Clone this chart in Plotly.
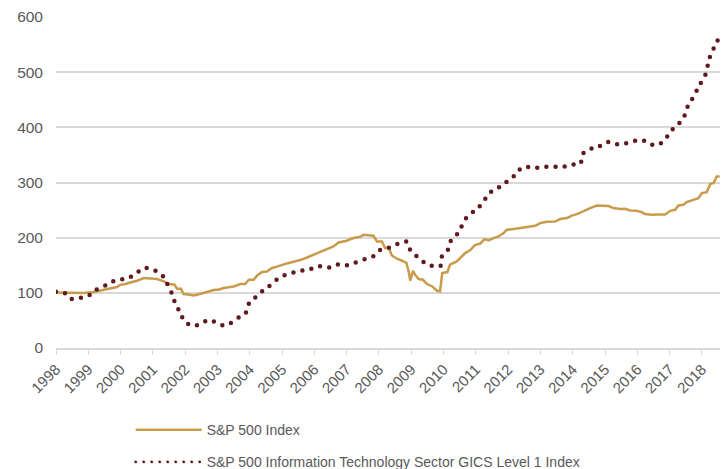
import plotly.graph_objects as go

# S&P 500 Index (rebased to 100 at start of 1998), sampled in decimal years
sp_x = [1998.0, 1998.3, 1998.6, 1998.85, 1999.16, 1999.37, 1999.55, 1999.68, 1999.89, 1999.99,
        2000.15, 2000.3, 2000.51, 2000.72, 2000.92, 2001.13, 2001.34, 2001.49, 2001.67, 2001.75,
        2001.87, 2001.95, 2002.1, 2002.26, 2002.4, 2002.57, 2002.72, 2002.88, 2003.05, 2003.19,
        2003.35, 2003.5, 2003.71, 2003.86, 2003.97, 2004.12, 2004.23, 2004.38, 2004.53, 2004.69,
        2004.82, 2004.95, 2005.15, 2005.36, 2005.56, 2005.77, 2005.98, 2006.18, 2006.39, 2006.59,
        2006.75, 2007.0, 2007.21, 2007.42, 2007.52, 2007.68, 2007.83, 2007.94, 2008.09, 2008.19,
        2008.3, 2008.4, 2008.56, 2008.71, 2008.85, 2008.92, 2008.97, 2009.05, 2009.12, 2009.23,
        2009.36, 2009.49, 2009.65, 2009.8, 2009.89, 2009.96, 2010.12, 2010.2, 2010.41, 2010.67,
        2010.82, 2010.98, 2011.13, 2011.27, 2011.39, 2011.55, 2011.70, 2011.86, 2011.96, 2012.17,
        2012.37, 2012.58, 2012.84, 2012.99, 2013.2, 2013.46, 2013.61, 2013.82, 2013.97, 2014.13,
        2014.33, 2014.54, 2014.75, 2014.95, 2015.11, 2015.26, 2015.47, 2015.62, 2015.78, 2015.98,
        2016.14, 2016.24, 2016.45, 2016.65, 2016.86, 2017.02, 2017.17, 2017.27, 2017.43, 2017.53,
        2017.74, 2017.89, 2018.0, 2018.15, 2018.26, 2018.36, 2018.46, 2018.55]
sp_values = [100.5, 100.0, 99.8, 99.6, 101.4, 103.8, 106.0, 108.7, 110.5, 114.5,
             116.0, 118.8, 122.0, 126.8, 125.5, 125.0, 120.7, 116.0, 114.7, 107.4,
             107.4, 97.8, 97.0, 95.3, 97.0, 99.6, 102.0, 105.0, 106.0, 108.7,
             110.0, 111.6, 116.0, 116.0, 123.7, 123.7, 131.5, 137.7, 138.8, 145.0,
             147.0, 149.6, 153.3, 156.3, 159.4, 164.1, 169.0, 175.0, 179.9, 184.0,
             191.3, 194.4, 199.3, 201.6, 205.3, 204.7, 203.4, 193.0, 193.0, 181.0,
             182.3, 167.8, 161.8, 158.2, 154.5, 138.8, 122.0, 140.0, 132.8, 125.0,
             123.7, 116.0, 111.6, 103.8, 102.6, 135.9, 137.7, 151.0, 157.0, 172.0,
             177.0, 187.0, 189.0, 197.4, 195.0, 199.3, 202.2, 208.3, 214.3, 215.6,
             217.4, 220.3, 221.6, 226.4, 228.8, 229.3, 233.7, 235.5, 240.0, 242.7,
             248.7, 253.6, 258.3, 257.2, 257.2, 253.6, 251.8, 252.4, 249.3, 248.7,
             246.4, 242.7, 241.5, 242.0, 242.0, 248.7, 250.5, 258.3, 259.6, 264.5,
             268.7, 271.7, 280.8, 282.6, 297.6, 298.9, 310.9, 310.9]

# S&P 500 Information Technology Sector GICS Level 1 Index (rebased to 100)
it_x = [1998.0, 1998.27, 1998.46, 1998.73, 1999.0, 1999.22, 1999.44, 1999.69, 1999.93, 2000.21,
        2000.47, 2000.72, 2000.96, 2001.18, 2001.37, 2001.5, 2001.62, 2001.7, 2001.85, 2001.96,
        2002.22, 2002.49, 2002.70, 2002.96, 2003.21, 2003.47, 2003.68, 2003.89, 2003.98, 2004.17,
        2004.38, 2004.6, 2004.83, 2005.08, 2005.37, 2005.66, 2005.91, 2006.16, 2006.45, 2006.72,
        2006.99, 2007.27, 2007.56, 2007.85, 2008.05, 2008.32, 2008.59, 2008.86, 2008.97, 2009.17,
        2009.40, 2009.66, 2009.91, 2009.95, 2010.14, 2010.23, 2010.44, 2010.70, 2010.92, 2011.12,
        2011.3, 2011.48, 2011.72, 2011.94, 2012.13, 2012.30, 2012.51, 2012.81, 2013.1, 2013.40,
        2013.67, 2013.95, 2014.24, 2014.30, 2014.52, 2014.81, 2015.04, 2015.32, 2015.62, 2015.88,
        2016.17, 2016.40, 2016.67, 2016.88, 2017.04, 2017.23, 2017.43, 2017.51, 2017.66, 2017.80,
        2017.93, 2018.08, 2018.16, 2018.22, 2018.34, 2018.47, 2018.52]
it_values = [102.0, 99.6, 89.0, 90.5, 94.7, 105.0, 110.0, 119.5, 123.7, 126.0,
             134.6, 145.0, 143.0, 137.0, 126.0, 108.0, 96.0, 78.0, 65.0, 49.0,
             40.4, 43.5, 50.7, 46.4, 40.4, 47.0, 56.5, 65.0, 81.5, 91.7,
             102.6, 112.0, 123.7, 132.0, 137.0, 141.0, 143.7, 148.0, 146.0, 151.4,
             149.6, 155.0, 161.0, 167.0, 178.0, 182.0, 189.0, 193.0, 177.5, 166.0,
             155.0, 148.5, 149.0, 166.0, 178.6, 195.0, 207.6, 235.5, 247.0, 257.0,
             271.0, 283.7, 291.6, 300.7, 308.5, 320.6, 329.0, 326.0, 328.4, 329.0,
             328.0, 332.6, 334.0, 351.4, 360.5, 365.0, 373.7, 369.6, 370.7, 375.0,
             376.8, 368.8, 368.8, 380.0, 393.0, 404.0, 415.4, 432.0, 447.5, 462.0,
             477.0, 491.0, 506.0, 523.5, 540.0, 556.0, 560.0]

year_ticks = list(range(1998, 2019))
year_labels = [str(y) for y in year_ticks]
y_ticks = [0, 100, 200, 300, 400, 500, 600]

GOLD = "#C89B4B"
MAROON = "#5E1A1D"
GRID = "#D9D9D9"
TEXT = "#595959"
FONT = "Arial, Liberation Sans, sans-serif"

fig = go.Figure()
fig.add_trace(go.Scatter(
    x=sp_x, y=sp_values, mode="lines", name="S&P 500 Index",
    line=dict(color=GOLD, width=2.5), legendgroup="sp",
    hoverinfo="skip",
))
fig.add_trace(go.Scatter(
    x=it_x, y=it_values, mode="lines",
    name="S&P 500 Information Technology Sector GICS Level 1 Index",
    line=dict(color=MAROON, width=4.5, dash="0px,9.2px", shape="spline", smoothing=0.6),
    legendgroup="it", hoverinfo="skip",
))

fig.update_layout(
    width=728, height=469,
    margin=dict(l=56, r=8, t=17, b=121, autoexpand=False),
    paper_bgcolor="white", plot_bgcolor="white",
    font=dict(family=FONT, color=TEXT, size=15),
    showlegend=True,
    legend=dict(
        orientation="v", xref="container", yref="container",
        x=0.1795, y=0.117, xanchor="left", yanchor="top",
        font=dict(family=FONT, size=14, color=TEXT),
        itemwidth=66, tracegroupgap=11, bgcolor="rgba(0,0,0,0)",
    ),
    xaxis=dict(
        range=[1998, 2018.56], tickmode="array", tickvals=year_ticks, ticktext=year_labels,
        tickangle=-45, showgrid=False, zeroline=False, automargin=False,
        showline=True, linecolor=GRID, linewidth=1.5,
        ticks="outside", ticklen=5, tickcolor=GRID, tickwidth=1,
        tickfont=dict(family=FONT, size=15, color=TEXT),
        fixedrange=True,
    ),
    yaxis=dict(
        range=[0, 600], tickmode="array", tickvals=y_ticks, automargin=False,
        showgrid=True, gridcolor=GRID, gridwidth=1.5, zeroline=False,
        showline=False, ticks="", ticklabelstandoff=12,
        tickfont=dict(family=FONT, size=15.5, color=TEXT),
        fixedrange=True,
    ),
)

# Round caps turn the zero-length dashes into circular dots
post_js = """
var gd = document.getElementById('{plot_id}');
function roundDots() {
  var traces = gd.querySelectorAll('.scatterlayer .trace');
  if (traces.length > 1) {
    traces[1].querySelectorAll('path.js-line').forEach(function (p) {
      p.style.strokeLinecap = 'round';
    });
  }
  var leg = gd.querySelectorAll('.legend .traces');
  if (leg.length > 1) {
    leg[1].querySelectorAll('.legendlines path').forEach(function (p) {
      p.style.strokeLinecap = 'round';
      p.style.strokeWidth = '2.8px';
      p.style.strokeDasharray = '0px,8px';
    });
  }
}
roundDots();
gd.on('plotly_afterplot', roundDots);
"""

fig.write_html("out.html", config={"displayModeBar": False}, post_script=post_js)
